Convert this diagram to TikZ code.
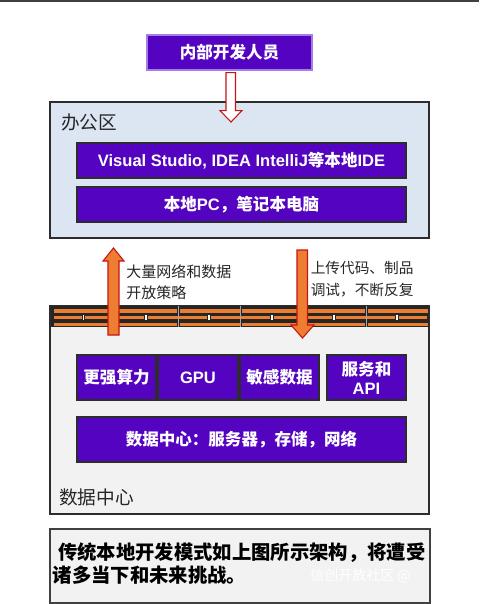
\documentclass[tikz,border=0pt]{standalone}
\usepackage{fontspec}
\setmainfont{Liberation Sans}
\newfontfamily\cjk{Noto Sans CJK SC}
\newcommand\latn[1]{{\rmfamily #1}}
\usetikzlibrary{calc}
\definecolor{pp}{RGB}{84,4,192}
\definecolor{ppedge}{RGB}{165,125,230}
\definecolor{officefill}{RGB}{220,230,242}
\definecolor{dcfill}{RGB}{242,242,242}
\definecolor{darkedge}{RGB}{45,45,45}
\definecolor{arrorange}{RGB}{237,125,49}
\definecolor{arrred}{RGB}{200,20,20}
\definecolor{fwdark}{RGB}{38,38,38}
\tikzset{
  pbox/.style={draw=darkedge, line width=1.1pt, fill=pp, text=white, inner sep=0pt,
    font={\cjk\bfseries\fontsize{12.4pt}{14.25pt}\selectfont}, align=center},
  zone/.style={draw=darkedge, line width=1.1pt, inner sep=0pt},
  zonelbl/.style={inner sep=0pt, text=black!85, font={\cjk\fontsize{14pt}{16pt}\selectfont}},
  note/.style={inner sep=0pt, align=left, text=black!85},
  blockarrow/.style={draw=arrred, fill=arrorange, line width=0.8pt},
}
\begin{document}
\begin{tikzpicture}[x=0.75pt,y=-0.75pt]
\useasboundingbox (0,0) rectangle (479,604);
\fill[black!75] (0,0) rectangle (479,2);

% developers
\node[pbox, draw=ppedge, line width=0.8pt, minimum width=165*0.75pt, minimum height=35*0.75pt] (dev) at (229.5,52.5) {内部开发人员};

% office zone
\node[zone, fill=officefill, minimum width=379*0.75pt, minimum height=136*0.75pt] (office) at (239.5,170) {};
\node[zonelbl, anchor=west] (officelbl) at (61,122) {办公区};
\node[pbox, minimum width=329*0.75pt, minimum height=35*0.75pt] (ide) at (241.5,160.5) {\latn{Visual Studio, IDEA IntelliJ}等本地\latn{IDE}};
\node[pbox, minimum width=329*0.75pt, minimum height=35*0.75pt] (pc) at (241.5,204.5) {本地\latn{PC}，笔记本电脑};

% hollow arrow dev -> office
\draw[draw=arrred, fill=white, line width=0.8pt]
  ($(dev.south)+(-3.5,2)$) -- ($(dev.south)+(6,2)$) -- ($(dev.south)+(6,40)$) -- ($(dev.south)+(12.5,40)$)
  -- ($(dev.south)+(1.5,51.5)$) -- ($(dev.south)+(-9.5,40)$) -- ($(dev.south)+(-3.5,40)$) -- cycle;

% data centre zone
\node[zone, fill=dcfill, minimum width=379*0.75pt, minimum height=208*0.75pt] (dc) at (239.5,410) {};
\node[zonelbl, anchor=west] (dclbl) at (59,497) {数据中心};

% firewall strip
\fill[fwdark] (50.5,306) rectangle (428.5,327);
\foreach \a in {52,115,178,240.5,303,366} {
  \fill[arrorange] (\a+1.5,309) rectangle (\a+61.5,312.5);
  \fill[arrorange] (\a+1.5,322.5) rectangle (\a+61.5,326);
}
\foreach \a/\b in {52/83.5,83.5/146,146/209,209/272,272/334,334/397,397/429} {
  \fill[arrorange] (\a+1.8,315.8) rectangle (\b-1.8,319.3);
}
\foreach \a in {83.5,146,209,272,334,397} {
  \fill[white] (\a-0.8,315.3) rectangle (\a+0.8,319.8);
}
\foreach \a in {115,178,240.5,303,366} {
  \draw[black!35, line width=0.6pt] (\a,306) -- (\a,327);
}
\draw[darkedge, line width=1.1pt] (dc.north west) rectangle (dc.south east);

% data centre boxes
\node[pbox, minimum width=79*0.75pt, minimum height=45*0.75pt] (c1) at (116.5,377.5) {更强算力};
\node[pbox, minimum width=80*0.75pt, minimum height=45*0.75pt] (c2) at (198,377.5) {\latn{GPU}};
\node[pbox, minimum width=79*0.75pt, minimum height=45*0.75pt] (c3) at (279.5,377.5) {敏感数据};
\node[pbox, minimum width=79*0.75pt, minimum height=45*0.75pt] (c4) at (366.5,377.5) {服务和\\\latn{API}};
\node[pbox, minimum width=329*0.75pt, minimum height=45*0.75pt] (base) at (241.5,439.5) {数据中心：服务器，存储，网络};

% block arrows between zones
\draw[blockarrow] (108,335) -- (108,261) -- (103,261) -- (113.5,248) -- (124,261) -- (119,261) -- (119,335) -- cycle;
\draw[blockarrow] (297,250) -- (307.5,250) -- (307.5,325) -- (314,325) -- (302.5,338) -- (291,325) -- (297,325) -- cycle;

\node[note, anchor=west, font={\cjk\fontsize{11.25pt}{15.75pt}\selectfont}] (uptxt) at (126,282.5) {大量网络和数据\\开放策略};
\node[note, anchor=west, font={\cjk\fontsize{11pt}{16.5pt}\selectfont}] (downtxt) at (310.5,279) {上传代码、制品\\调试，不断反复};

% summary
\node[draw=black!75, line width=1.5pt, fill=dcfill, minimum width=380*0.75pt, minimum height=74*0.75pt, inner sep=0pt] (summary) at (240,566) {};
\node[note, anchor=west, text=black, font={\cjk\bfseries\fontsize{14.5pt}{17.25pt}\selectfont}] (sumtxt) at (52.5,563.5) {\hspace{4pt}传统本地开发模式如上图所示架构，将遭受\\诸多当下和未来挑战。};
\node[inner sep=0pt, anchor=west, text=white, font={\cjk\fontsize{10.5pt}{12pt}\selectfont}] (wm) at (310,576) {信创开放社区 @};
\end{tikzpicture}
\end{document}
